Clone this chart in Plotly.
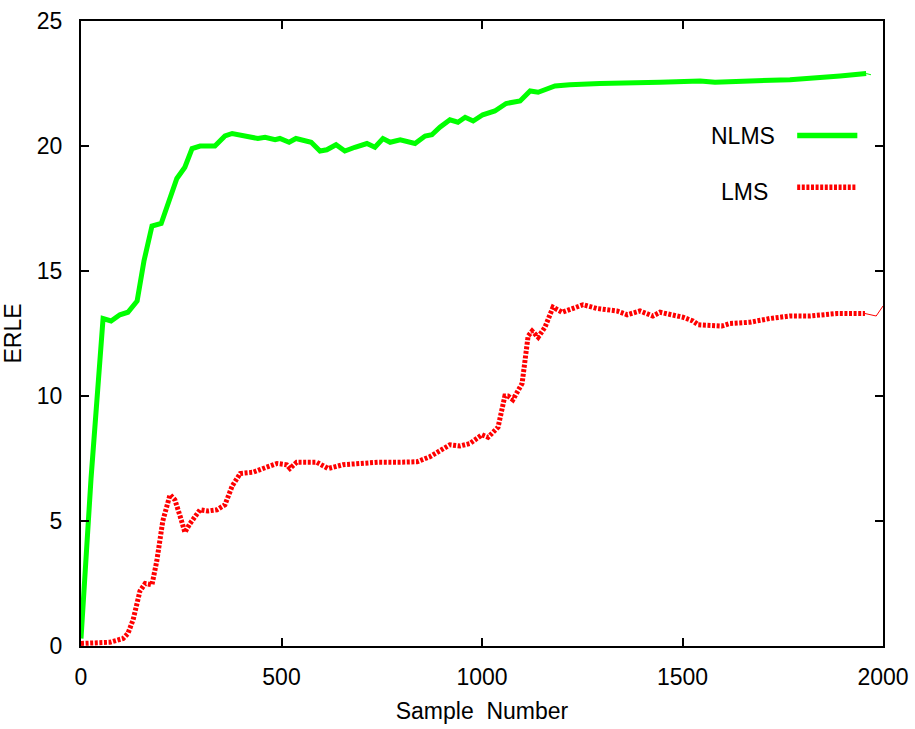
import plotly.graph_objects as go

# ERLE convergence of the NLMS and LMS echo cancellers
nlms_x = [0, 25, 55, 75, 97, 117, 140, 157, 177, 200, 239, 259, 277, 297, 334,
          359, 377, 416, 441, 459, 484, 496, 519, 536, 574, 596, 613, 636, 658,
          683, 713, 733, 753, 771, 796, 833, 858, 875, 895, 920, 940, 958, 978,
          1002, 1032, 1060, 1095, 1120, 1140, 1182, 1219, 1294, 1369, 1444,
          1544, 1581, 1668, 1768, 1893, 1958, 1970]
nlms_y = [0.3, 6.7, 13.1, 13.0, 13.25, 13.35, 13.8, 15.4, 16.8, 16.9, 18.7,
          19.15, 19.9, 20.0, 20.0, 20.4, 20.5, 20.4, 20.3, 20.35, 20.25, 20.3,
          20.15, 20.3, 20.15, 19.8, 19.85, 20.05, 19.8, 19.95, 20.1, 19.95,
          20.3, 20.15, 20.25, 20.1, 20.4, 20.45, 20.75, 21.05, 20.95, 21.15,
          21.0, 21.25, 21.4, 21.7, 21.8, 22.2, 22.15, 22.4, 22.45, 22.5, 22.55,
          22.55, 22.6, 22.55, 22.6, 22.65, 22.8, 22.9, 22.85]

lms_x = [0, 30, 72, 105, 117, 130, 147, 160, 177, 189, 204, 222, 234, 247, 259,
         272, 297, 317, 339, 359, 377, 397, 429, 454, 489, 513, 521, 538, 588,
         616, 653, 696, 741, 796, 838, 870, 920, 945, 970, 1000, 1015, 1040,
         1057, 1065, 1077, 1100, 1115, 1125, 1140, 1157, 1177, 1200, 1252,
         1287, 1337, 1362, 1394, 1426, 1444, 1501, 1526, 1539, 1598, 1618,
         1668, 1718, 1768, 1818, 1843, 1885, 1955, 1983, 2000]
lms_y = [0.1, 0.1, 0.15, 0.3, 0.5, 1.05, 2.2, 2.5, 2.45, 3.4, 5.0, 6.05, 5.85,
         5.2, 4.55, 4.9, 5.45, 5.4, 5.45, 5.65, 6.4, 6.9, 6.95, 7.1, 7.3, 7.25,
         7.1, 7.35, 7.35, 7.1, 7.25, 7.3, 7.35, 7.35, 7.37, 7.57, 8.05, 8.0,
         8.1, 8.45, 8.35, 8.75, 10.0, 10.0, 9.85, 10.5, 12.4, 12.6, 12.35,
         12.75, 13.55, 13.35, 13.65, 13.5, 13.4, 13.25, 13.4, 13.2, 13.35,
         13.15, 13.0, 12.85, 12.8, 12.9, 12.95, 13.1, 13.2, 13.2, 13.25, 13.3,
         13.3, 13.2, 13.6]

x_ticks = [0, 500, 1000, 1500, 2000]
y_ticks = [0, 5, 10, 15, 20, 25]

GREEN = "#00ff00"
RED = "#ff0000"
RED_DASH = "3px,1.6px"
FONT = "Liberation Sans, Arial, sans-serif"
FSIZE = 23

fig = go.Figure()

# NLMS: thick solid line, with the thin end segment
fig.add_trace(go.Scatter(x=nlms_x[:-1], y=nlms_y[:-1], mode="lines",
                         line=dict(color=GREEN, width=5), name="NLMS",
                         showlegend=False))
fig.add_trace(go.Scatter(x=nlms_x[-2:], y=nlms_y[-2:], mode="lines",
                         line=dict(color=GREEN, width=1), showlegend=False))

# LMS: thick dotted line, with the thin end segment
fig.add_trace(go.Scatter(x=lms_x[:-2], y=lms_y[:-2], mode="lines",
                         line=dict(color=RED, width=5, dash=RED_DASH),
                         name="LMS", showlegend=False))
fig.add_trace(go.Scatter(x=lms_x[-3:], y=lms_y[-3:], mode="lines",
                         line=dict(color=RED, width=1), showlegend=False))

# key drawn to the right of its labels
fig.add_shape(type="line", xref="paper", yref="paper",
              x0=0.893, x1=0.968, y0=0.817, y1=0.817,
              line=dict(color=GREEN, width=5.5))
fig.add_shape(type="line", xref="paper", yref="paper",
              x0=0.893, x1=0.967, y0=0.734, y1=0.734,
              line=dict(color=RED, width=5.5, dash=RED_DASH))
fig.add_annotation(text="NLMS", xref="paper", yref="paper", x=0.868, y=0.816,
                   xanchor="right", yanchor="middle", showarrow=False,
                   font=dict(family=FONT, size=FSIZE, color="black"))
fig.add_annotation(text="LMS", xref="paper", yref="paper", x=0.859, y=0.726,
                   xanchor="right", yanchor="middle", showarrow=False,
                   font=dict(family=FONT, size=FSIZE, color="black"))

axis_common = dict(showline=True, linecolor="black", linewidth=2,
                   mirror="allticks", ticks="inside", ticklen=8,
                   tickwidth=1.5, tickcolor="black", showgrid=False,
                   zeroline=False, tickfont=dict(family=FONT, size=FSIZE,
                                                 color="black"))

fig.update_xaxes(range=[0, 2000], tickvals=x_ticks,
                 ticktext=[str(v) for v in x_ticks],
                 ticklabelstandoff=9,
                 title=dict(text="Sample  Number", standoff=14,
                            font=dict(family=FONT, size=FSIZE, color="black")),
                 **axis_common)
fig.update_yaxes(range=[0, 25], tickvals=y_ticks,
                 ticktext=[str(v) for v in y_ticks],
                 ticklabelstandoff=12,
                 title=dict(text="ERLE", standoff=12,
                            font=dict(family=FONT, size=FSIZE, color="black")),
                 **axis_common)

fig.update_layout(width=915, height=729, autosize=False,
                  margin=dict(l=81, r=32, t=21, b=83, autoexpand=False),
                  paper_bgcolor="white", plot_bgcolor="white",
                  showlegend=False)

fig.write_html("out.html")
